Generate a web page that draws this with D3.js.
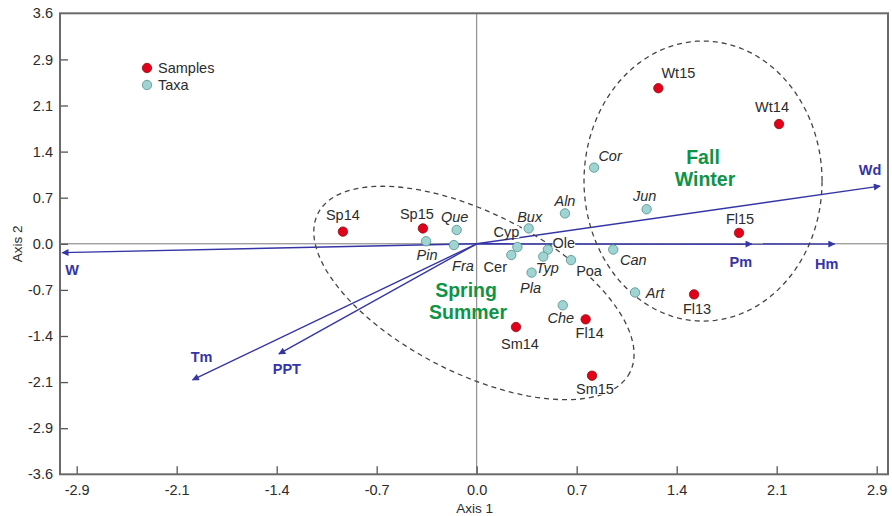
<!DOCTYPE html>
<html>
<head>
<meta charset="utf-8">
<script src="https://cdn.jsdelivr.net/npm/d3@7"></script>
<style>
  html, body { margin: 0; padding: 0; background: #fff; }
  svg { display: block; font-family: "Liberation Sans", Arial, sans-serif; }
</style>
</head>
<body>
<div id="container"></div>
<script>
// ==================== data ==================== //

const samples = [
    { name: "Sp14", x: -0.97, y: 0.19 },
    { name: "Sp15", x: -0.39, y: 0.24 },
    { name: "Wt15", x: 1.317, y: 2.43 },
    { name: "Wt14", x: 2.192, y: 1.87 },
    { name: "Fl15", x: 1.902, y: 0.17 },
    { name: "Fl13", x: 1.576, y: -0.79 },
    { name: "Fl14", x: 0.790, y: -1.18 },
    { name: "Sm14", x: 0.285, y: -1.30 },
    { name: "Sm15", x: 0.836, y: -2.06 }
];

const taxa = [
    { name: "Que", x: -0.145, y: 0.215 },
    { name: "Pin", x: -0.367, y: 0.04 },
    { name: "Fra", x: -0.165, y: -0.02 },
    { name: "Cyp", x: 0.295, y: -0.05 },
    { name: "Bux", x: 0.377, y: 0.24 },
    { name: "Aln", x: 0.640, y: 0.475 },
    { name: "Jun", x: 1.232, y: 0.54 },
    { name: "Cor", x: 0.851, y: 1.19 },
    { name: "Ole", x: 0.516, y: -0.09 },
    { name: "Typ", x: 0.483, y: -0.20 },
    { name: "Cer", x: 0.251, y: -0.175 },
    { name: "Can", x: 0.990, y: -0.09 },
    { name: "Poa", x: 0.684, y: -0.255 },
    { name: "Pla", x: 0.398, y: -0.45 },
    { name: "Art", x: 1.148, y: -0.76 },
    { name: "Che", x: 0.624, y: -0.96 }
];

// environmental vectors, tips in axis units
const vectors = [
    { name: "W",   x: -3.005, y: -0.138 },
    { name: "Pm",  x: 1.995,  y: -0.005 },
    { name: "Hm",  x: 2.595,  y: -0.005 },
    { name: "Wd",  x: 2.925,  y: 0.90 },
    { name: "Tm",  x: -2.06,  y: -2.126 },
    { name: "PPT", x: -1.434, y: -1.72 }
];

// group ellipses: centre and two conjugate half-axes, in axis units
const groups = [
    { name: ["Fall", "Winter"], cx: 1.641, cy: 0.98, ax: 0.863, ay: 0, bx: 0, by: 2.187 },
    { name: ["Spring", "Summer"], cx: -0.02, cy: -0.768, ax: 1.131, ay: -1.241, bx: -0.263, by: -1.113 }
];

const xTickValues = [-4, -3, -2, -1, 0, 1, 2, 3, 4].map(k => k * 0.725);
const xTickLabels = ["-2.9", "-2.1", "-1.4", "-0.7", "0.0", "0.7", "1.4", "2.1", "2.9"];
const yTickValues = [-5, -4, -3, -2, -1, 0, 1, 2, 3, 4, 5].map(k => k * 0.72);
const yTickLabels = ["-3.6", "-2.9", "-2.1", "-1.4", "-0.7", "0.0", "0.7", "1.4", "2.1", "2.9", "3.6"];

// taxa names printed upright in the original
const uprightTaxa = ["Cyp", "Ole", "Cer", "Poa"];

// label placement relative to the dot (px)
const labelOffsets = {
    Sp14: [0, -17], Sp15: [-6, -15], Wt15: [20, -15], Wt14: [-7, -17], Fl15: [1, -14],
    Fl13: [3, 15], Fl14: [4, 14], Sm14: [4, 17], Sm15: [3, 13],
    Que: [-2, -13], Pin: [1, 14], Fra: [9, 21], Cyp: [-11, -15], Bux: [1, -12],
    Aln: [0, -12], Jun: [-2, -13], Cor: [16, -12], Ole: [16, -7], Typ: [4, 11],
    Cer: [-16, 12], Can: [20, 10], Poa: [18, 11], Pla: [-1, 15], Art: [20, 0], Che: [-2, 13]
};
const vectorLabelOffsets = {
    W: [10, 17], Pm: [-11, 18], Hm: [-8, 20], Wd: [-10, -16], Tm: [9, -23], PPT: [8, 15]
};

// ==================== chart ==================== //

const width = 892, height = 516;
const margin = { top: 13, right: 4, bottom: 42, left: 60 };
const fontSize = "14.5px";

const x = d3.scaleLinear().domain([-3.021, 2.982]).range([margin.left, width - margin.right]);
const y = d3.scaleLinear().domain([-3.6, 3.6]).range([height - margin.bottom + 0.3, margin.top + 0.3]);

const svg = d3.select("#container")
    .append("svg")
    .attr("width", width)
    .attr("height", height);

const textColor = "#2b2b2b";
const blue = "#3535a6";
const green = "#0f9447";

svg.append("defs").append("marker")
    .attr("id", "head")
    .attr("viewBox", "0 0 10 10")
    .attr("refX", 9)
    .attr("refY", 5)
    .attr("markerWidth", 9)
    .attr("markerHeight", 7)
    .attr("markerUnits", "userSpaceOnUse")
    .attr("orient", "auto")
    .append("path")
    .attr("d", "M0,0 L10,5 L0,10 Z")
    .attr("fill", blue);

// zero lines
svg.append("line")
    .attr("x1", x(0)).attr("x2", x(0))
    .attr("y1", y(3.6)).attr("y2", y(-3.6))
    .attr("stroke", "#7a7a7a").attr("stroke-width", 1);
svg.append("line")
    .attr("x1", x.range()[0]).attr("x2", x.range()[1])
    .attr("y1", y(0)).attr("y2", y(0))
    .attr("stroke", "#7a7a7a").attr("stroke-width", 1);

// axes with inward ticks
const xAxis = svg.append("g")
    .attr("transform", `translate(0,${y(-3.6)})`)
    .call(d3.axisBottom(x).tickValues(xTickValues).tickSize(-8).tickPadding(10)
        .tickFormat((d, i) => xTickLabels[i]));
const yAxis = svg.append("g")
    .attr("transform", `translate(${x.range()[0]},0)`)
    .call(d3.axisLeft(y).tickValues(yTickValues).tickSize(-8).tickPadding(7)
        .tickFormat((d, i) => yTickLabels[i]));

[xAxis, yAxis].forEach(g => {
    g.select(".domain").remove();
    g.selectAll(".tick line").attr("stroke", "#555").attr("stroke-width", 1.3);
    g.selectAll(".tick text")
        .attr("fill", textColor)
        .style("font-size", fontSize)
        .style("font-family", "'Liberation Sans', Arial, sans-serif");
});
yAxis.selectAll(".tick").filter(d => Math.abs(Math.abs(d) - 3.6) < 1e-6).select("line").remove();

// frame
svg.append("rect")
    .attr("x", x.range()[0]).attr("y", y(3.6))
    .attr("width", x.range()[1] - x.range()[0])
    .attr("height", y(-3.6) - y(3.6))
    .attr("fill", "none")
    .attr("stroke", "#6a6a6a")
    .attr("stroke-width", 2);

svg.append("text")
    .attr("x", x(0) - 2).attr("y", height - 3)
    .attr("text-anchor", "middle")
    .attr("fill", textColor)
    .style("font-size", "13.5px")
    .text("Axis 1");
svg.append("text")
    .attr("transform", `translate(22,${y(0)}) rotate(-90)`)
    .attr("text-anchor", "middle")
    .attr("fill", textColor)
    .style("font-size", "13.5px")
    .text("Axis 2");

// vectors
svg.append("g").selectAll("line")
    .data(vectors)
    .join("line")
    .attr("x1", x(0)).attr("y1", y(0))
    .attr("x2", d => x(d.x)).attr("y2", d => y(d.y))
    .attr("stroke", blue)
    .attr("stroke-width", 1.4)
    .attr("marker-end", "url(#head)");

// ellipses
const ellipsePath = g => {
    const pts = d3.range(0, 361, 3).map(a => {
        const t = a * Math.PI / 180;
        return [x(g.cx + g.ax * Math.cos(t) + g.bx * Math.sin(t)),
                y(g.cy + g.ay * Math.cos(t) + g.by * Math.sin(t))];
    });
    return d3.line()(pts) + "Z";
};
svg.append("g").selectAll("path")
    .data(groups)
    .join("path")
    .attr("d", ellipsePath)
    .attr("fill", "none")
    .attr("stroke", "#444")
    .attr("stroke-width", 1.3)
    .attr("stroke-dasharray", "5,4");

// group names
const groupCenters = [[703, 157], [466, 290]];
groups.forEach((g, i) => {
    const t = svg.append("text")
        .attr("x", groupCenters[i][0])
        .attr("y", groupCenters[i][1] + 7)
        .attr("text-anchor", "middle")
        .attr("fill", green)
        .style("font-size", "19.5px")
        .style("font-weight", "bold");
    g.name.forEach((s, j) => t.append("tspan")
        .attr("x", groupCenters[i][0] + (j ? 2 : 0))
        .attr("dy", j ? 22 : 0)
        .text(s));
});

// point labels with white backing
const labelLayer = svg.append("g");
function addLabel(d, off, italic) {
    const t = labelLayer.append("text")
        .attr("x", x(d.x) + off[0])
        .attr("y", y(d.y) + off[1])
        .attr("dy", "0.35em")
        .attr("text-anchor", "middle")
        .attr("fill", textColor)
        .style("font-size", fontSize)
        .style("font-style", italic ? "italic" : "normal")
        .text(d.name);
    const b = t.node().getBBox();
    labelLayer.insert("rect", () => t.node())
        .attr("x", b.x).attr("y", b.y + 2)
        .attr("width", b.width).attr("height", b.height - 4)
        .attr("fill", "#fff");
}
samples.forEach(d => addLabel(d, labelOffsets[d.name], false));
taxa.forEach(d => addLabel(d, labelOffsets[d.name], !uprightTaxa.includes(d.name)));

vectors.forEach(d => {
    const off = vectorLabelOffsets[d.name];
    svg.append("text")
        .attr("x", x(d.x) + off[0])
        .attr("y", y(d.y) + off[1])
        .attr("dy", "0.35em")
        .attr("text-anchor", "middle")
        .attr("fill", blue)
        .style("font-size", fontSize)
        .style("font-weight", "bold")
        .text(d.name);
});

// dots
svg.append("g").selectAll("circle")
    .data(taxa)
    .join("circle")
    .attr("cx", d => x(d.x)).attr("cy", d => y(d.y))
    .attr("r", 4.7)
    .attr("fill", "#9fd4d2")
    .attr("stroke", "#4f8f8c")
    .attr("stroke-width", 0.8);
svg.append("g").selectAll("circle")
    .data(samples)
    .join("circle")
    .attr("cx", d => x(d.x)).attr("cy", d => y(d.y))
    .attr("r", 4.7)
    .attr("fill", "#e2001a")
    .attr("stroke", "#8a1010")
    .attr("stroke-width", 0.8);

// legend
const legend = svg.append("g").attr("transform", "translate(147,68)");
[["Samples", "#e2001a", "#8a1010"], ["Taxa", "#9fd4d2", "#4f8f8c"]].forEach((l, i) => {
    legend.append("circle")
        .attr("cx", 0).attr("cy", i * 17)
        .attr("r", 4.7)
        .attr("fill", l[1]).attr("stroke", l[2]).attr("stroke-width", 0.8);
    legend.append("text")
        .attr("x", 11).attr("y", i * 17)
        .attr("dy", "0.35em")
        .attr("fill", textColor)
        .style("font-size", fontSize)
        .text(l[0]);
});
</script>
</body>
</html>
